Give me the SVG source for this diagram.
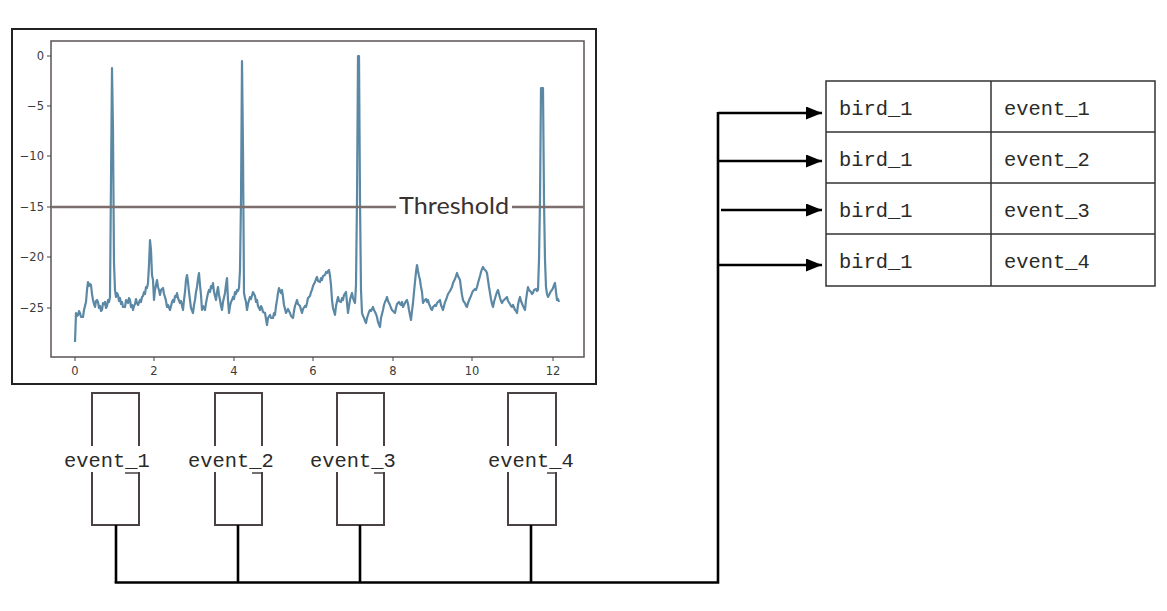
<svg xmlns="http://www.w3.org/2000/svg" width="1167" height="611" viewBox="0 0 1167 611">
<style>
.mono{font-family:"Liberation Mono","Courier New",monospace;font-size:20.4px;fill:#2a2a2a;}
.tick{font-family:"DejaVu Sans",sans-serif;font-size:11.5px;fill:#3a3a3a;}
.box{fill:none;stroke:#4a4242;stroke-width:2;}
.wire{fill:none;stroke:#000;stroke-width:2.6;}
.cell{fill:none;stroke:#333;stroke-width:1.5;}
.tk{stroke:#444;stroke-width:1;}
</style>
<defs>
<marker id="ah" markerWidth="16" markerHeight="14" refX="16" refY="6.5" orient="auto" markerUnits="userSpaceOnUse">
<path d="M0,0 L16,6.5 L0,13 z" fill="#000"/>
</marker>
</defs>
<rect width="1167" height="611" fill="#fff"/>
<g id="chart">
<rect x="12" y="29" width="584" height="355" fill="#fff" stroke="#222" stroke-width="2"/>
<rect x="51" y="41" width="533" height="316" fill="#fff" stroke="#5c5353" stroke-width="1.5"/>
<g class="tk">
<line x1="47" y1="56" x2="51" y2="56"/><line x1="47" y1="106" x2="51" y2="106"/><line x1="47" y1="156" x2="51" y2="156"/><line x1="47" y1="207" x2="51" y2="207"/><line x1="47" y1="257" x2="51" y2="257"/><line x1="47" y1="308" x2="51" y2="308"/>
<line x1="75" y1="357" x2="75" y2="361"/><line x1="154" y1="357" x2="154" y2="361"/><line x1="234" y1="357" x2="234" y2="361"/><line x1="313" y1="357" x2="313" y2="361"/><line x1="393" y1="357" x2="393" y2="361"/><line x1="472" y1="357" x2="472" y2="361"/><line x1="553" y1="357" x2="553" y2="361"/>
</g>
<g class="tick" text-anchor="end">
<text x="44" y="60">0</text><text x="44" y="110">−5</text><text x="44" y="160">−10</text><text x="44" y="211">−15</text><text x="44" y="261">−20</text><text x="44" y="312">−25</text>
</g>
<g class="tick" text-anchor="middle">
<text x="75" y="375">0</text><text x="154" y="375">2</text><text x="234" y="375">4</text><text x="313" y="375">6</text><text x="393" y="375">8</text><text x="472" y="375">10</text><text x="553" y="375">12</text>
</g>
<path fill="none" stroke="#5b88a5" stroke-width="2.2" stroke-linejoin="round" d="M75,342 L76,313 L77,316 L78,315 L79,311 L80,313 L81,317 L83,317 L84,310 L86,302 L87,290 L88,282 L89,286 L90,284 L91,285 L92,294 L93,300 L94,304 L95,307 L96,301 L97,300 L98,302 L99,308 L100,306 L101,311 L102,310 L103,303 L104,304 L105,302 L106,308 L107,306 L108,300 L109,302 L110,297 L111,180 L112,68 L113,130 L114,263 L115,290 L116,297 L117,293 L118,295 L119,301 L120,298 L121,304 L122,302 L123,307 L125,307 L126,300 L127,301 L128,303 L129,298 L130,300 L131,307 L132,305 L133,310 L134,306 L135,304 L136,299 L137,303 L138,305 L140,300 L141,302 L142,297 L143,296 L144,292 L145,294 L146,287 L147,288 L148,283 L149,265 L150,240 L151,250 L152,275 L153,280 L154,300 L155,290 L156,285 L157,280 L158,287 L159,290 L160,295 L161,290 L163,288 L164,294 L165,297 L166,301 L167,307 L168,305 L170,310 L171,306 L172,302 L173,300 L174,302 L175,296 L176,297 L177,293 L178,298 L180,303 L181,301 L183,310 L184,300 L185,292 L186,280 L187,275 L188,282 L189,292 L190,300 L191,308 L193,313 L194,305 L195,300 L196,292 L197,287 L198,279 L199,273 L200,285 L201,295 L202,310 L203,306 L205,310 L206,303 L207,298 L208,293 L209,290 L210,292 L211,286 L212,288 L213,283 L214,292 L216,300 L217,292 L218,287 L219,295 L220,300 L221,306 L222,310 L223,302 L225,293 L226,285 L227,278 L228,300 L229,313 L230,306 L231,302 L232,300 L233,297 L234,299 L235,292 L236,294 L237,290 L238,291 L239,288 L240,270 L241,200 L242,61 L243,150 L244,293 L245,298 L246,302 L247,310 L248,304 L250,297 L251,299 L253,292 L254,294 L255,296 L256,302 L257,300 L258,306 L260,310 L261,306 L262,308 L263,312 L265,313 L266,319 L267,325 L268,318 L270,315 L271,318 L273,318 L274,313 L275,315 L276,306 L277,300 L278,293 L279,288 L280,291 L281,293 L282,290 L283,297 L284,305 L286,313 L288,309 L290,313 L291,316 L293,318 L294,311 L295,306 L296,303 L297,300 L298,304 L300,306 L301,310 L302,313 L303,309 L305,306 L306,307 L307,303 L308,298 L310,296 L311,292 L312,290 L313,286 L315,282 L316,279 L317,277 L318,281 L320,282 L321,278 L322,280 L323,276 L325,275 L326,272 L327,273 L328,271 L329,270 L330,276 L331,285 L332,300 L333,308 L335,315 L336,306 L338,297 L339,301 L341,302 L342,298 L343,300 L344,295 L346,292 L347,303 L348,313 L349,306 L350,300 L351,296 L352,293 L353,298 L354,301 L355,303 L356,285 L357,200 L358,56 L359,56 L360,200 L361,290 L362,313 L363,316 L364,318 L365,321 L366,323 L367,318 L368,315 L369,312 L370,310 L371,311 L373,307 L374,310 L375,312 L376,314 L377,317 L378,322 L380,327 L381,318 L383,310 L384,305 L385,302 L386,300 L387,297 L388,301 L390,305 L391,308 L392,310 L393,311 L395,313 L396,308 L397,304 L399,302 L400,304 L401,305 L402,302 L403,307 L404,305 L405,303 L406,301 L407,300 L408,304 L409,310 L410,315 L411,320 L412,311 L413,303 L414,292 L415,282 L416,272 L417,265 L418,271 L419,276 L420,280 L421,287 L422,292 L423,303 L424,301 L426,299 L427,302 L428,300 L429,304 L430,306 L431,309 L432,310 L433,307 L435,305 L436,306 L437,303 L438,302 L440,300 L441,305 L443,310 L444,306 L445,302 L446,300 L447,297 L448,294 L450,291 L451,289 L452,287 L453,283 L455,279 L456,276 L457,273 L458,276 L460,280 L461,288 L462,295 L463,300 L464,302 L465,303 L466,306 L467,307 L468,303 L470,298 L471,296 L472,293 L473,291 L475,289 L476,290 L477,287 L478,283 L480,276 L481,272 L482,269 L483,267 L484,269 L485,270 L486,271 L487,273 L488,280 L489,287 L490,293 L491,299 L492,304 L493,307 L494,302 L496,295 L497,292 L498,290 L499,294 L500,298 L501,301 L502,303 L503,301 L505,299 L506,298 L507,297 L508,301 L510,304 L511,306 L512,307 L513,305 L515,310 L516,311 L517,313 L518,305 L519,300 L520,297 L521,301 L523,306 L524,308 L525,310 L526,300 L527,293 L528,287 L529,290 L531,292 L532,294 L533,293 L534,290 L536,289 L537,291 L538,290 L539,260 L540,200 L541,88 L543,88 L544,200 L545,260 L546,287 L547,294 L548,297 L549,295 L550,293 L551,291 L552,290 L553,288 L554,285 L555,283 L556,292 L557,300 L558,299 L559,302"/>
<line x1="51" y1="207" x2="584" y2="207" stroke="#7d6e6e" stroke-width="2.5"/>
<rect x="396" y="196" width="116" height="22" fill="#fff"/>
<text x="454" y="214" text-anchor="middle" textLength="110" lengthAdjust="spacingAndGlyphs" style="font-family:Lato,'Noto Sans',sans-serif;font-size:24px;fill:#3a3232;">Threshold</text>
</g>
<g id="event_1">
<rect class="box" x="92" y="393" width="47" height="132"/>
<rect x="60" y="446" width="92" height="26" fill="#fff"/>
<line x1="125" y1="473" x2="139" y2="473" stroke="#4a4242" stroke-width="1.5"/>
<text class="mono" x="64" y="467">event_1</text>
</g>
<g id="event_2">
<rect class="box" x="215" y="393" width="47" height="132"/>
<rect x="184" y="446" width="92" height="26" fill="#fff"/>
<line x1="252" y1="473" x2="262" y2="473" stroke="#4a4242" stroke-width="1.5"/>
<text class="mono" x="188" y="467">event_2</text>
</g>
<g id="event_3">
<rect class="box" x="337" y="393" width="47" height="132"/>
<rect x="306" y="446" width="92" height="26" fill="#fff"/>
<line x1="374" y1="473" x2="384" y2="473" stroke="#4a4242" stroke-width="1.5"/>
<text class="mono" x="310" y="467">event_3</text>
</g>
<g id="event_4">
<rect class="box" x="508" y="393" width="48" height="132"/>
<rect x="484" y="446" width="92" height="26" fill="#fff"/>
<line x1="547" y1="473" x2="556" y2="473" stroke="#4a4242" stroke-width="1.5"/>
<text class="mono" x="488" y="467">event_4</text>
</g>
<g id="table">
<rect class="cell" x="826" y="81" width="329" height="205" fill="#fff"/>
<line class="cell" x1="991" y1="81" x2="991" y2="286"/>
<line class="cell" x1="826" y1="132" x2="1155" y2="132"/>
<line class="cell" x1="826" y1="183" x2="1155" y2="183"/>
<line class="cell" x1="826" y1="234" x2="1155" y2="234"/>
<text class="mono" x="839" y="115">bird_1</text><text class="mono" x="1004" y="115">event_1</text>
<text class="mono" x="839" y="166">bird_1</text><text class="mono" x="1004" y="166">event_2</text>
<text class="mono" x="839" y="217">bird_1</text><text class="mono" x="1004" y="217">event_3</text>
<text class="mono" x="839" y="268">bird_1</text><text class="mono" x="1004" y="268">event_4</text>
</g>
<g id="connectors">
<line class="wire" x1="116" y1="525" x2="116" y2="583"/>
<line class="wire" x1="238" y1="525" x2="238" y2="583"/>
<line class="wire" x1="360" y1="525" x2="360" y2="583"/>
<line class="wire" x1="531" y1="525" x2="531" y2="583"/>
<polyline class="wire" points="114.7,582.5 718,582.5 718,112"/>
<line class="wire" x1="718" y1="113" x2="822" y2="113" marker-end="url(#ah)"/>
<line class="wire" x1="718" y1="161" x2="822" y2="161" marker-end="url(#ah)"/>
<line class="wire" x1="721" y1="210" x2="822" y2="210" marker-end="url(#ah)"/>
<line class="wire" x1="718" y1="265" x2="822" y2="265" marker-end="url(#ah)"/>
</g>
</svg>
